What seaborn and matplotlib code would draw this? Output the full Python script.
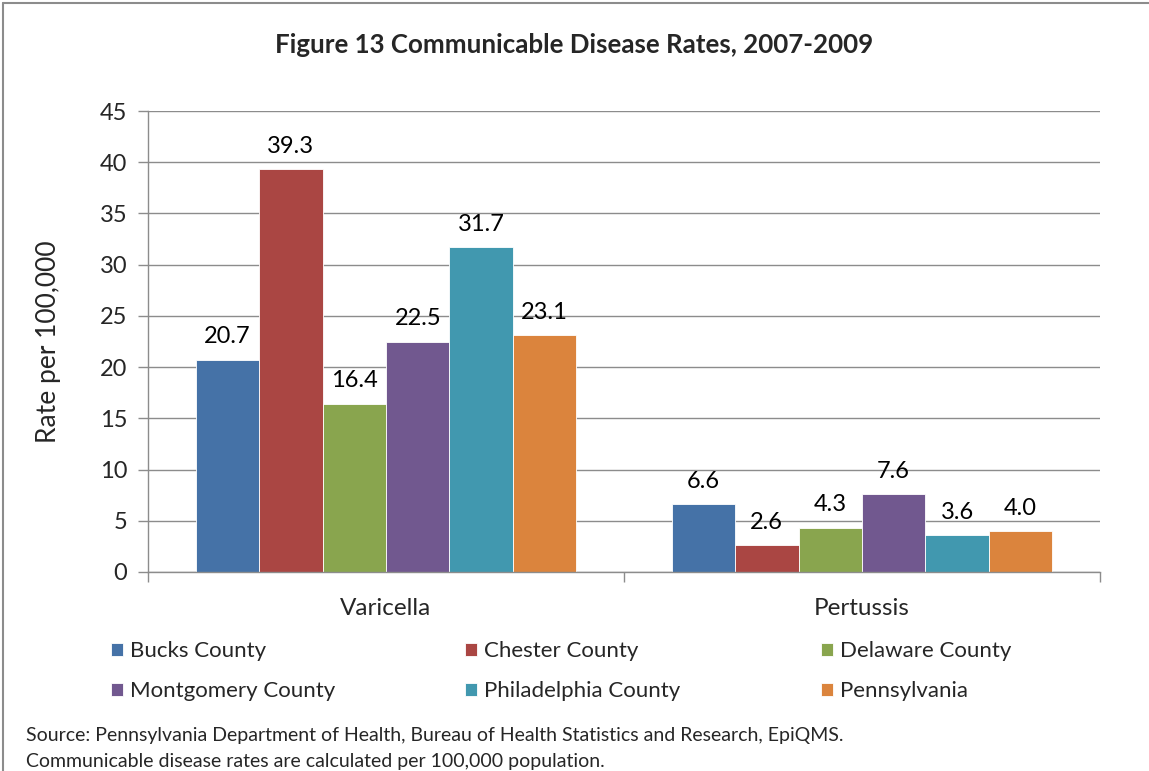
import matplotlib
matplotlib.use("Agg")
import matplotlib.pyplot as plt
import seaborn as sns
import pandas as pd
from matplotlib.lines import Line2D

diseases = ["Varicella", "Pertussis"]
regions = ["Bucks County", "Chester County", "Delaware County",
           "Montgomery County", "Philadelphia County", "Pennsylvania"]
varicella = [20.7, 39.3, 16.4, 22.5, 31.7, 23.1]
pertussis = [6.6, 2.6, 4.3, 7.6, 3.6, 4.0]
colors = ["#4572A7", "#AA4643", "#89A54E", "#71588F", "#4198AF", "#DB843D"]
yticks = [0, 5, 10, 15, 20, 25, 30, 35, 40, 45]

rows = []
for r, v in zip(regions, varicella):
    rows.append({"Disease": "Varicella", "Region": r, "Rate": v})
for r, v in zip(regions, pertussis):
    rows.append({"Disease": "Pertussis", "Region": r, "Rate": v})
df = pd.DataFrame(rows)

sns.set_style("white")
plt.rcParams["font.family"] = ["Lato", "DejaVu Sans"]

fig = plt.figure(figsize=(11.49, 7.71), dpi=100)
ax = fig.add_axes([148/1149, 1-572/771, (1100-148)/1149, (572-111)/771])

sns.barplot(data=df, x="Disease", y="Rate", hue="Region", order=diseases,
            hue_order=regions, palette=colors, width=0.8, ax=ax, saturation=1,
            edgecolor="white", linewidth=0.6, errorbar=None, legend=True)

handles, labels = ax.get_legend_handles_labels()
ax.get_legend().remove()

for cont in ax.containers:
    ax.bar_label(cont, fmt="%.1f", padding=9, fontsize=17, color="#000000")

ax.set_ylim(0, 45)
ax.set_yticks(yticks)
ax.set_yticklabels([str(t) for t in yticks], fontsize=17)
ax.yaxis.grid(True, color="#8c8c8c", linewidth=1)
ax.set_axisbelow(True)
ax.set_xlim(-0.5, 1.5)
ax.set_xticks([-0.5, 0.5, 1.5], minor=False)
ax.set_xticklabels(["", "", ""])
ax.set_xticks([0, 1], minor=True)
ax.set_xticklabels(diseases, minor=True, fontsize=17.5)
ax.tick_params(axis="x", which="major", length=7, color="#8c8c8c", width=1, direction="out", bottom=True)
ax.tick_params(axis="x", which="minor", length=0, pad=19)
ax.tick_params(axis="y", length=7, color="#8c8c8c", width=1, direction="out", left=True, pad=8)
ax.set_xlabel("")
ax.set_ylabel("Rate per 100,000", fontsize=19, labelpad=28)

for s in ["top", "right"]:
    ax.spines[s].set_visible(False)
for s in ["left", "bottom"]:
    ax.spines[s].set_color("#8c8c8c")
    ax.spines[s].set_linewidth(1)

fig.text(0.5, 1-45/771, "Figure 13 Communicable Disease Rates, 2007-2009",
         ha="center", va="center", fontsize=18.6, fontweight="bold")

xs = [100/1149, 454/1149, 810/1149]
for i, x in enumerate(xs):
    h = [handles[i], handles[i+3]]
    l = [labels[i], labels[i+3]]
    fig.legend(h, l, loc="upper left", bbox_to_anchor=(x, 1-630/771),
               frameon=False, fontsize=16, handlelength=0.55, handleheight=0.55,
               handletextpad=0.3, labelspacing=0.9, borderpad=0)

fig.text(26/1149, 1-735/771,
         "Source: Pennsylvania Department of Health, Bureau of Health Statistics and Research, EpiQMS.",
         ha="left", va="center", fontsize=14)
fig.text(26/1149, 1-762/771,
         "Communicable disease rates are calculated per 100,000 population.",
         ha="left", va="center", fontsize=14)

fig.add_artist(Line2D([3/1149, 3/1149], [0, 1-3/771], transform=fig.transFigure, color="#8c8c8c", linewidth=1.5))
fig.add_artist(Line2D([3/1149, 1], [1-3/771, 1-3/771], transform=fig.transFigure, color="#8c8c8c", linewidth=1.5))

fig.savefig("out.png", dpi=100)
